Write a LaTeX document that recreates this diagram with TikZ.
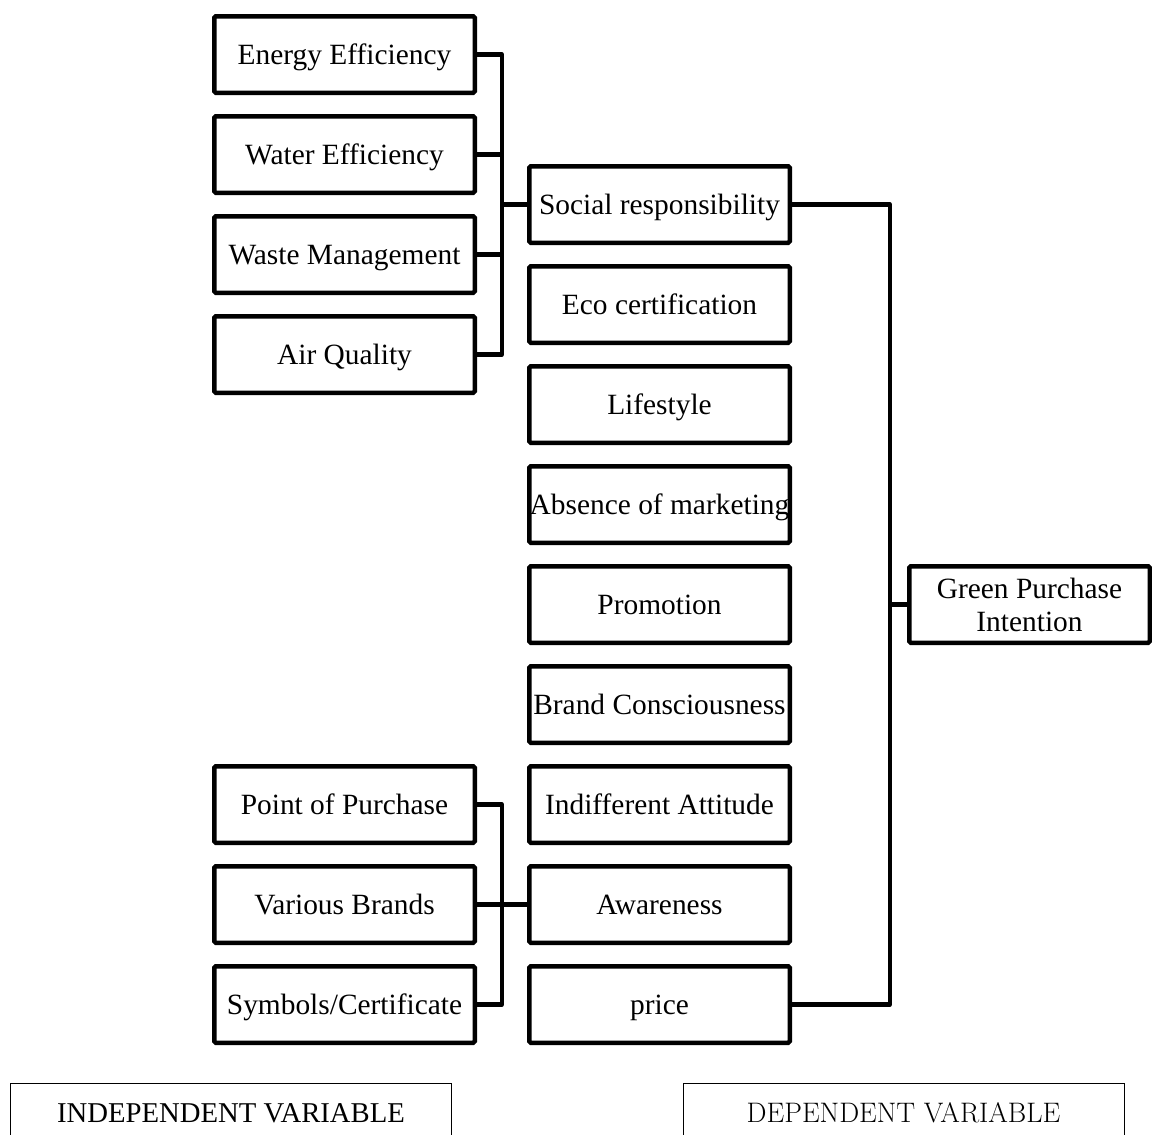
\documentclass[tikz,border=0pt]{standalone}
\usepackage{fontspec}
\setmainfont{Liberation Serif}
\newfontfamily\lmfont{Latin Modern Roman}
\usetikzlibrary{calc}
\begin{document}
\begin{tikzpicture}[x=1pt,y=-1pt,
  box/.style={draw, line width=4.5pt, rounded corners=1.5pt, minimum width=260.5pt,
    minimum height=76.5pt, inner sep=0pt, font=\fontsize{29.4}{34}\selectfont,
    text height=19.5pt, text depth=0pt},
  conn/.style={line width=4.2pt, line join=round},
  varlabel/.style={draw, line width=1pt, minimum width=441pt, minimum height=60pt,
    inner sep=0pt, text height=19pt, text depth=0pt}]
\useasboundingbox (0,0) rectangle (1152,1135);

% left upper column
\node[box] (ee) at (344.5,54.5) {Energy Efficiency};
\node[box] (we) at (344.5,154.5) {Water Efficiency};
\node[box] (wm) at (344.5,254.5) {Waste Management};
\node[box] (aq) at (344.5,354.5) {Air Quality};

% middle column
\node[box] (sr) at (659.5,204.5) {Social responsibility};
\node[box] (ec) at (659.5,304.5) {Eco certification};
\node[box] (ls) at (659.5,404.5) {Lifestyle};
\node[box] (am) at (659.5,504.5) {Absence of marketing};
\node[box] (pm) at (659.5,604.5) {Promotion};
\node[box] (bc) at (659.5,704.5) {Brand Consciousness};
\node[box] (ia) at (659.5,804.5) {Indifferent Attitude};
\node[box] (aw) at (659.5,904.5) {Awareness};
\node[box] (pr) at (659.5,1004.5) {price};

% left lower column
\node[box] (pp) at (344.5,804.5) {Point of Purchase};
\node[box] (vb) at (344.5,904.5) {Various Brands};
\node[box] (sc) at (344.5,1004.5) {Symbols/Certificate};

% dependent
\node[box, minimum width=240.5pt, text height=, text depth=, align=center,
  font=\fontsize{29.4}{33}\selectfont] (gpi) at (1029.5,604.5) {Green Purchase\\Intention};

% bus coordinates
\coordinate (busL) at ($(ee.east)!.5!(sr.west)$);
\coordinate (busR) at ($(gpi.west)+(-17,0)$);

% upper-left group
\draw[conn] (ee.east) -| (busL |- aq.east) -- (aq.east);
\draw[conn] (we.east) -- (we.east -| busL);
\draw[conn] (wm.east) -- (wm.east -| busL);
\draw[conn] (sr.west) -- (sr.west -| busL);

% lower-left group
\draw[conn] (pp.east) -| (busL |- sc.east) -- (sc.east);
\draw[conn] (vb.east) -- (aw.west);

% right bus
\draw[conn] (sr.east) -| (busR |- pr.east) -- (pr.east);
\draw[conn] (gpi.west) -- (busR |- gpi.west);

% bottom labels
\node[varlabel, font=\fontsize{28.7}{34}\selectfont] (iv) at (231,1113) {INDEPENDENT VARIABLE};
\node[varlabel, font=\lmfont\fontsize{28.2}{34}\selectfont] (dv) at (903.5,1113) {DEPENDENT VARIABLE};
\end{tikzpicture}
\end{document}
